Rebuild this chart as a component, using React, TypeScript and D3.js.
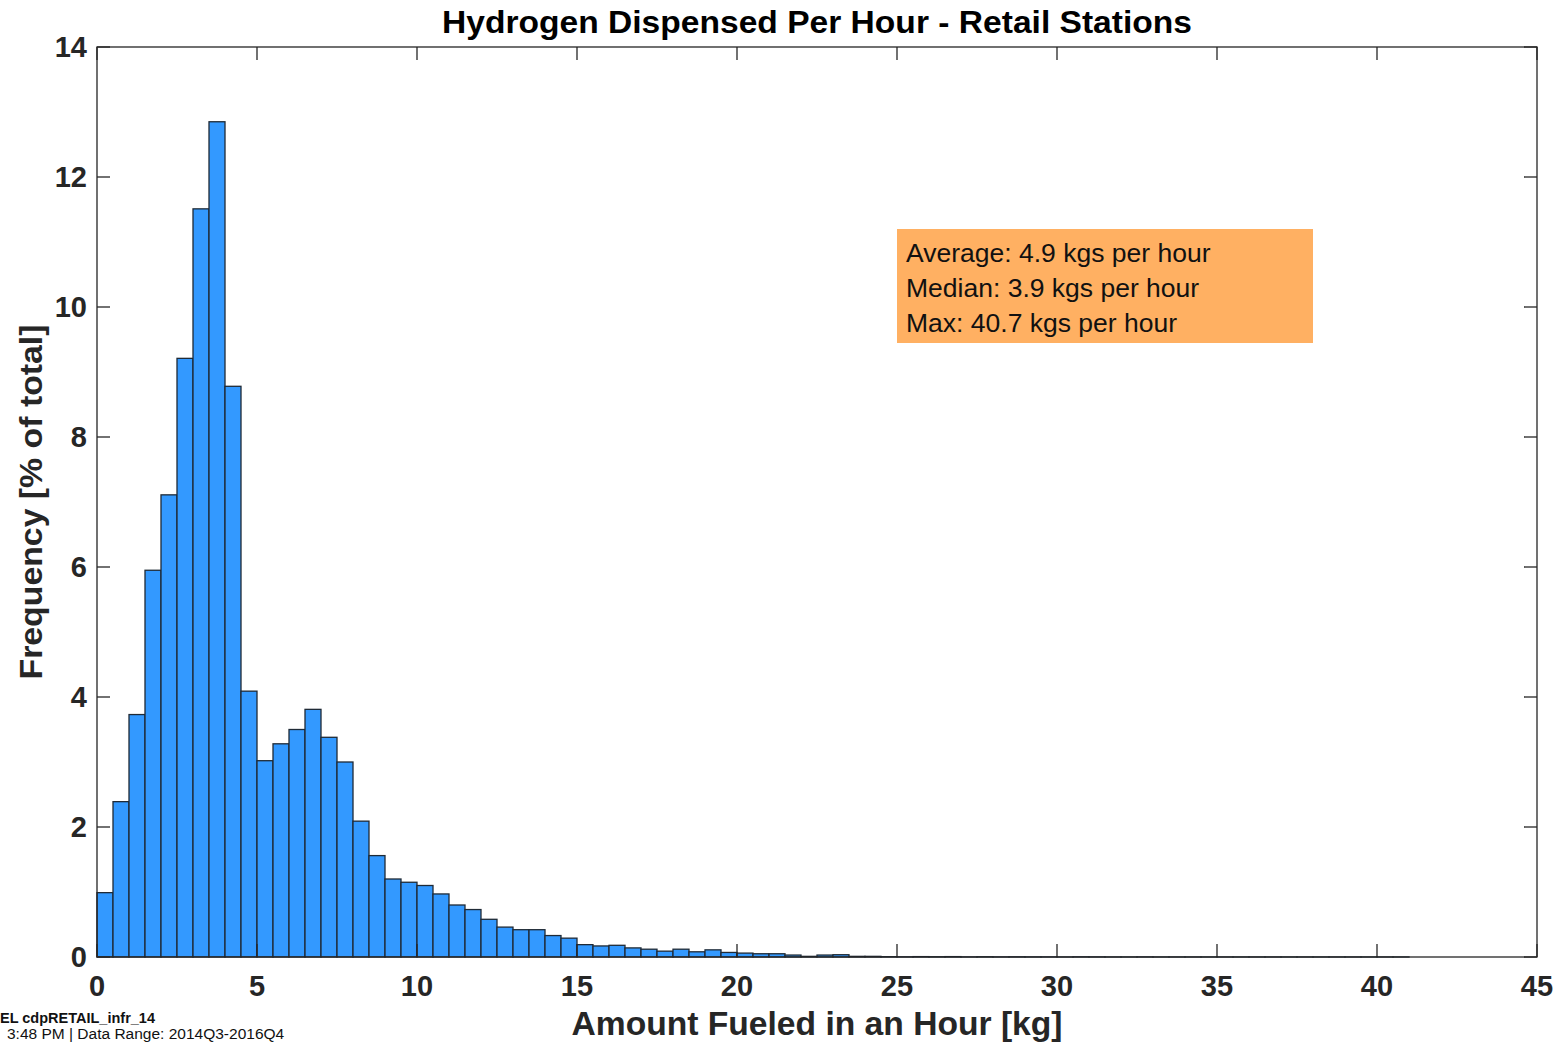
import React, { useEffect, useRef } from 'react';
import * as d3 from 'd3';

// histogram: 0.5 kg bins starting at 0
const binWidth = 0.5;
const frequencies = [
  0.99, 2.39, 3.73, 5.95, 7.11, 9.21, 11.51, 12.85, 8.78, 4.09,
  3.02, 3.28, 3.5, 3.81, 3.38, 3.0, 2.09, 1.56, 1.2, 1.15,
  1.1, 0.97, 0.8, 0.73, 0.58, 0.46, 0.42, 0.42, 0.33, 0.29,
  0.19, 0.17, 0.18, 0.14, 0.12, 0.09, 0.12, 0.08, 0.11, 0.07,
  0.06, 0.05, 0.05, 0.03, 0.01, 0.03, 0.035, 0.01, 0.01, 0.005,
  0.003, 0.006, 0.004, 0.006, 0.002, 0.004, 0.002, 0.003, 0.002, 0.002,
  0.001, 0.003, 0.002, 0.001, 0.001, 0.002, 0.001, 0.001, 0.001, 0.001,
  0.001, 0.001, 0.001, 0.001, 0.001, 0.001, 0.001, 0.001, 0.001, 0.001,
  0.001, 0.001,
];
const xTicks = [0, 5, 10, 15, 20, 25, 30, 35, 40, 45];
const yTicks = [0, 2, 4, 6, 8, 10, 12, 14];
const statLines = [
  'Average: 4.9 kgs per hour',
  'Median: 3.9 kgs per hour',
  'Max: 40.7 kgs per hour',
];
const footerLines = ['EL cdpRETAIL_infr_14', '3:48 PM | Data Range: 2014Q3-2016Q4'];

const W = 1567;
const H = 1042;
const FONT = '"Liberation Sans", Arial, Helvetica, sans-serif';

export default function App() {
  const svgRef = useRef<SVGSVGElement>(null);

  useEffect(() => {
    if (!svgRef.current) return;
    const svg = d3.select(svgRef.current);
    svg.selectAll('*').remove();

    const margin = { top: 47, right: 30, bottom: 85, left: 97 };
    const iw = W - margin.left - margin.right;
    const ih = H - margin.top - margin.bottom;

    const x = d3.scaleLinear().domain([0, 45]).range([0, iw]);
    const y = d3.scaleLinear().domain([0, 14]).range([ih, 0]);

    const g = svg.append('g').attr('transform', `translate(${margin.left},${margin.top})`);

    // bars
    g.selectAll('rect.bar')
      .data(frequencies)
      .join('rect')
      .attr('class', 'bar')
      .attr('x', (_d, i) => x(i * binWidth))
      .attr('width', x(binWidth) - x(0))
      .attr('y', (d) => y(d))
      .attr('height', (d) => y(0) - y(d))
      .attr('fill', '#3399ff')
      .attr('stroke', '#1f2a36')
      .attr('stroke-width', 1.3);

    const axisColor = '#262626';
    const tickLen = 13;

    // box
    g.append('rect')
      .attr('x', 0)
      .attr('y', 0)
      .attr('width', iw)
      .attr('height', ih)
      .attr('fill', 'none')
      .attr('stroke', axisColor)
      .attr('stroke-width', 1.3);

    // ticks (inward, all four sides)
    xTicks.forEach((t) => {
      g.append('line').attr('x1', x(t)).attr('x2', x(t)).attr('y1', ih).attr('y2', ih - tickLen)
        .attr('stroke', axisColor).attr('stroke-width', 1.3);
      g.append('line').attr('x1', x(t)).attr('x2', x(t)).attr('y1', 0).attr('y2', tickLen)
        .attr('stroke', axisColor).attr('stroke-width', 1.3);
      g.append('text')
        .attr('x', x(t))
        .attr('y', ih + 39)
        .attr('text-anchor', 'middle')
        .attr('font-family', FONT)
        .attr('font-weight', 'bold')
        .attr('font-size', 29)
        .attr('fill', axisColor)
        .text(t);
    });
    yTicks.forEach((t) => {
      g.append('line').attr('x1', 0).attr('x2', tickLen).attr('y1', y(t)).attr('y2', y(t))
        .attr('stroke', axisColor).attr('stroke-width', 1.3);
      g.append('line').attr('x1', iw).attr('x2', iw - tickLen).attr('y1', y(t)).attr('y2', y(t))
        .attr('stroke', axisColor).attr('stroke-width', 1.3);
      g.append('text')
        .attr('x', -10)
        .attr('y', y(t) + 10)
        .attr('text-anchor', 'end')
        .attr('font-family', FONT)
        .attr('font-weight', 'bold')
        .attr('font-size', 29)
        .attr('fill', axisColor)
        .text(t);
    });

    // title
    svg.append('text')
      .attr('x', margin.left + iw / 2)
      .attr('y', 33)
      .attr('text-anchor', 'middle')
      .attr('font-family', FONT)
      .attr('font-weight', 'bold')
      .attr('font-size', 32)
      .attr('textLength', 750)
      .attr('lengthAdjust', 'spacingAndGlyphs')
      .attr('fill', '#000')
      .text('Hydrogen Dispensed Per Hour - Retail Stations');

    // axis labels
    svg.append('text')
      .attr('x', 817)
      .attr('y', 1035)
      .attr('text-anchor', 'middle')
      .attr('font-family', FONT)
      .attr('font-weight', 'bold')
      .attr('font-size', 33)
      .attr('textLength', 491)
      .attr('lengthAdjust', 'spacingAndGlyphs')
      .attr('fill', axisColor)
      .text('Amount Fueled in an Hour [kg]');

    svg.append('text')
      .attr('transform', `translate(42,502) rotate(-90)`)
      .attr('text-anchor', 'middle')
      .attr('font-family', FONT)
      .attr('font-weight', 'bold')
      .attr('font-size', 32)
      .attr('textLength', 355)
      .attr('lengthAdjust', 'spacingAndGlyphs')
      .attr('fill', axisColor)
      .text('Frequency [% of total]');

    // stats annotation
    const ann = svg.append('g').attr('transform', 'translate(897,229)');
    ann.append('rect').attr('width', 416).attr('height', 114).attr('fill', '#ffb062');
    statLines.forEach((s, i) => {
      ann.append('text')
        .attr('x', 9)
        .attr('y', 33 + i * 35)
        .attr('font-family', FONT)
        .attr('font-size', 26.5)
        .attr('fill', '#111')
        .text(s);
    });

    // footer
    footerLines.forEach((s, i) => {
      svg.append('text')
        .attr('x', i === 0 ? 0 : 7)
        .attr('y', i === 0 ? 1023 : 1039)
        .attr('font-family', FONT)
        .attr('font-weight', i === 0 ? 'bold' : 'normal')
        .attr('font-size', i === 0 ? 14.5 : 15.5)
        .attr('fill', '#111')
        .text(s);
    });
  }, []);

  return (
    <svg
      ref={svgRef}
      width={W}
      height={H}
      style={{ position: 'absolute', left: 0, top: 0, display: 'block', background: '#fff' }}
    />
  );
}
